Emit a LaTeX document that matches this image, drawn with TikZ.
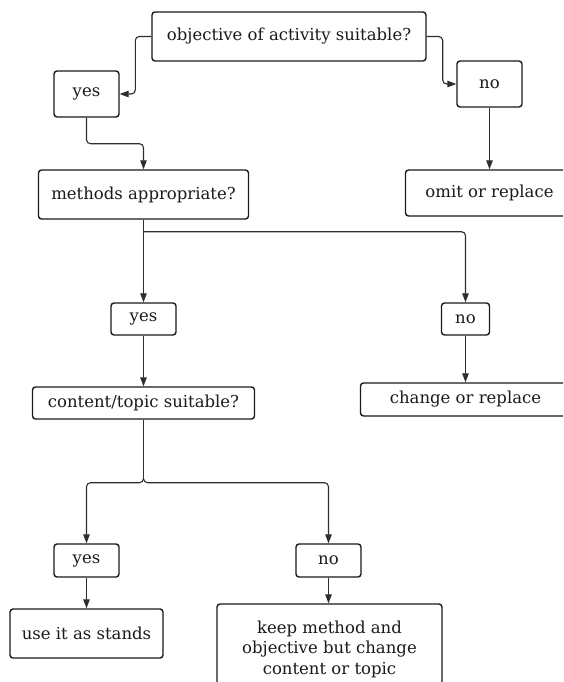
\documentclass[tikz,border=0pt]{standalone}
\usepackage{fontspec}
\setmainfont{DejaVu Serif}
\usetikzlibrary{arrows.meta,calc}
\definecolor{ink}{HTML}{1A1A1A}
\definecolor{wire}{HTML}{2E2E2E}
\tikzset{
  box/.style={draw=ink, line width=1.4pt, rounded corners=3pt, rectangle,
    inner sep=0pt, align=center, text=ink,
    font=\fontsize{16.5}{20.5}\selectfont},
  conn/.style={draw=wire, line width=1.1pt, rounded corners=4pt,
    -{Triangle[length=9pt,width=6.5pt]}},
  wireline/.style={draw=wire, line width=1.1pt}
}
\begin{document}
\begin{tikzpicture}[x=1pt,y=-1pt]
\fill[white] (0,0) rectangle (563,682);
\clip (0,0) rectangle (563,682);
% nodes
\node[box, minimum width=274pt, minimum height=49pt] (q1) at (289,36.5) {objective of activity suitable?};
\node[box, minimum width=65pt, minimum height=46pt] (yes1) at (86.5,94) {yes};
\node[box, minimum width=65pt, minimum height=46pt] (no1) at (489.5,84) {no};
\node[box, minimum width=210pt, minimum height=49pt] (q2) at (143.5,194.5) {methods appropriate?};
\node[box, minimum width=168pt, minimum height=46pt] (omit) at (489.5,193) {omit or replace};
\node[box, minimum width=65pt, minimum height=32pt] (yes2) at (143.5,319) {yes};
\node[box, minimum width=48pt, minimum height=32pt] (no2) at (465.5,319) {no};
\node[box, minimum width=222pt, minimum height=32pt] (q3) at (143.5,403) {content/topic suitable?};
\node[box, minimum width=210pt, minimum height=33pt] (change) at (465.5,399.5) {change or replace};
\node[box, minimum width=65pt, minimum height=33pt] (yes3) at (86.5,560.5) {yes};
\node[box, minimum width=65pt, minimum height=33pt] (no3) at (328.5,560.5) {no};
\node[box, minimum width=153pt, minimum height=49pt] (use) at (86.5,633.5) {use it as stands};
\node[box, minimum width=225pt, minimum height=90pt] (keep) at (329.5,649) {keep method and\\objective but change\\content or topic};
% junctions
\coordinate (j1) at ($(q2.south)+(0,12)$);
\coordinate (j2) at ($(q3.south)+(0,63)$);
\coordinate (j2a) at ($(q3.south)+(0,59)$);
% connectors
\draw[conn] (q1.west) -- ++(-16,0) |- (yes1.east);
\draw[conn] (q1.east) -- ++(16,0) |- (no1.west);
\draw[conn] (yes1.south) -- ++(0,26) -| (q2.north);
\draw[conn] (no1.south) -- (no1.south |- omit.north);
\draw[conn] (q2.south) -- (q2.south |- yes2.north);
\draw[conn] (j1) -| (no2.north);
\draw[conn] (yes2.south) -- (yes2.south |- q3.north);
\draw[conn] (no2.south) -- (no2.south |- change.north);
\draw[wireline] (q3.south) -- (j2a);
\draw[conn] (j2a) -- (j2) -| (yes3.north);
\draw[conn] (j2a) -- (j2) -| (no3.north);
\draw[conn] (yes3.south) -- (yes3.south |- use.north);
\draw[conn] (no3.south) -- (no3.south |- keep.north);
\end{tikzpicture}
\end{document}
